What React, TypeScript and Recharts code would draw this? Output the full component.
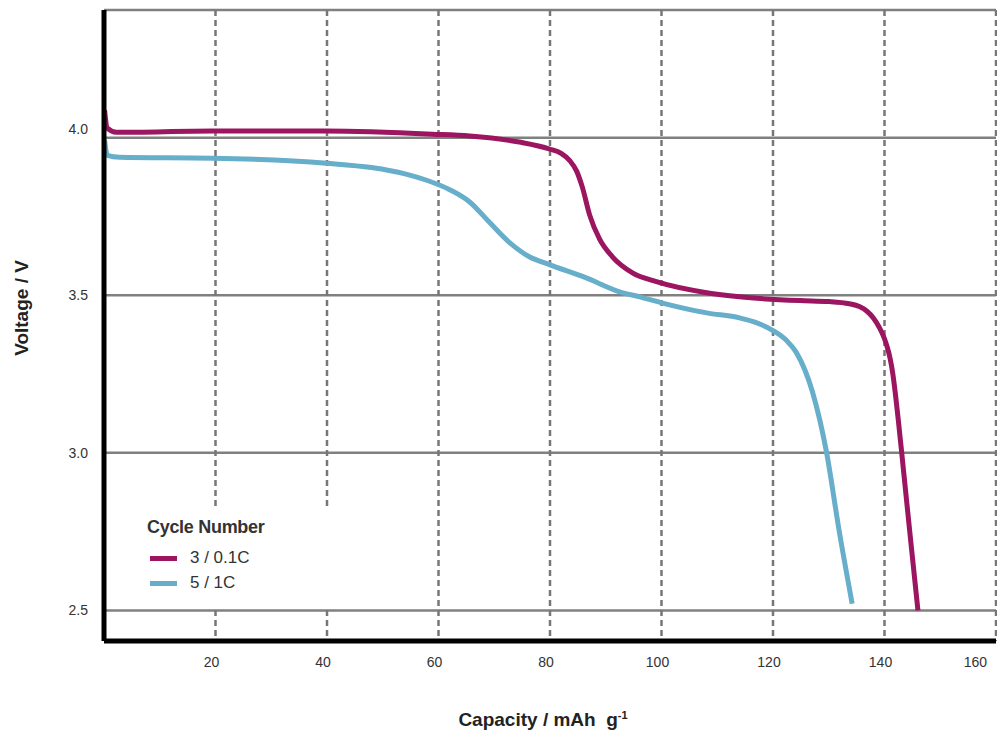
import React from 'react';
import { LineChart, Line, XAxis, YAxis, CartesianGrid } from 'recharts';

// capacity (mAh/g) and voltage (V)
const capCycle3 = [0.1, 0.6, 2.2, 19.5, 39.9, 58.9, 65.6, 74.5, 79.9, 82.0, 83.5, 84.8, 85.8, 87.1, 88.9, 91.2, 94.8, 99.1, 108.1, 114.0, 124.8, 130.0, 133.7, 135.5, 136.8, 138.0, 139.0, 140.0, 140.5, 141.0, 141.5, 142.0, 142.5, 143.0, 144.5, 146.0];
const voltCycle3 = [4.087, 4.030, 4.017, 4.021, 4.021, 4.011, 4.005, 3.986, 3.964, 3.950, 3.928, 3.893, 3.843, 3.755, 3.678, 3.622, 3.571, 3.543, 3.508, 3.495, 3.483, 3.480, 3.473, 3.464, 3.450, 3.428, 3.400, 3.362, 3.335, 3.300, 3.250, 3.180, 3.100, 3.015, 2.755, 2.500];

const capCycle5 = [0.1, 0.6, 2.8, 19.5, 39.9, 48.0, 54.0, 58.0, 62.0, 65.6, 69.1, 72.7, 76.3, 79.9, 86.5, 92.5, 96.1, 100.0, 108.1, 114.0, 117.0, 120.0, 122.4, 124.2, 127.1, 129.6, 131.9, 134.2];
const voltCycle5 = [3.992, 3.944, 3.938, 3.935, 3.919, 3.905, 3.885, 3.864, 3.835, 3.796, 3.732, 3.668, 3.622, 3.597, 3.555, 3.511, 3.495, 3.476, 3.444, 3.428, 3.413, 3.388, 3.357, 3.318, 3.192, 3.002, 2.749, 2.521];

const seriesNames = ['3 / 0.1C', '5 / 1C'];
const seriesColors = ['#9c1560', '#67aecb'];

const xTicks = [20, 40, 60, 80, 100, 120, 140, 160];
const yTicks = [2.5, 3.0, 3.5, 4.0];

const cycle3 = capCycle3.map((c, i) => ({ cap: c, v: voltCycle3[i] }));
const cycle5 = capCycle5.map((c, i) => ({ cap: c, v: voltCycle5[i] }));

const font = '"Liberation Sans", Arial, Helvetica, sans-serif';

const XTick = (props: any) => {
    const { x, y, payload } = props;
    const last = payload.value === 160;
    return (
        <text x={last ? x + 2 : x - 4} y={y} dy="0.71em" textAnchor={last ? 'end' : 'middle'}
            fontSize={14} fill="#333" fontFamily={font}>
            {payload.value}
        </text>
    );
};

const YTick = (props: any) => {
    const { x, y, payload } = props;
    return (
        <text x={x} y={payload.value === 4 ? y - 9 : y} dy="0.355em" textAnchor="end"
            fontSize={14} fill="#333" fontFamily={font}>
            {payload.value.toFixed(1)}
        </text>
    );
};

const LegendBox = () => (
    <div style={{ position: 'absolute', left: 130, top: 507, width: 215, height: 101, background: '#fff', fontFamily: font, color: '#333' }}>
        <div style={{ position: 'absolute', left: 17, top: 10, fontSize: 18, fontWeight: 700, whiteSpace: 'nowrap', letterSpacing: -0.3 }}>
            Cycle Number
        </div>
        {seriesNames.map((name, i) => (
            <div key={name}>
                <div style={{ position: 'absolute', left: 20, top: 49 + i * 25, width: 27, height: 5, background: seriesColors[i] }} />
                <div style={{ position: 'absolute', left: 60, top: 41 + i * 25, fontSize: 17, whiteSpace: 'pre' }}>{name}</div>
            </div>
        ))}
    </div>
);

export default function App() {
    return (
        <div style={{ position: 'absolute', left: 0, top: 0, width: 997, height: 736, background: '#fff' }}>
            <LineChart width={997} height={736} margin={{ top: 10, right: 1, left: 0, bottom: 0 }}>
                <CartesianGrid horizontal={true} vertical={false} stroke="#808080" strokeWidth={2.5} />
                <CartesianGrid horizontal={false} vertical={true} stroke="#777" strokeWidth={2.5} strokeDasharray="6 4" />
                <XAxis type="number" dataKey="cap" domain={[0, 160]} ticks={xTicks} height={95}
                    axisLine={{ stroke: '#000', strokeWidth: 5 }} tickLine={false} tick={<XTick />}
                    tickSize={8} tickMargin={8} allowDataOverflow />
                <YAxis type="number" dataKey="v" domain={[2.403, 4.405]} ticks={yTicks} width={104}
                    axisLine={{ stroke: '#000', strokeWidth: 5 }} tickLine={false} tick={<YTick />}
                    tickSize={8} tickMargin={8} allowDataOverflow />
                <Line data={cycle3} dataKey="v" name={seriesNames[0]} type="monotone" stroke={seriesColors[0]}
                    strokeWidth={5} dot={false} isAnimationActive={false} />
                <Line data={cycle5} dataKey="v" name={seriesNames[1]} type="monotone" stroke={seriesColors[1]}
                    strokeWidth={5} dot={false} isAnimationActive={false} />
            </LineChart>
            <LegendBox />
            <div style={{ position: 'absolute', left: 22, top: 308, transform: 'translate(-50%, -50%) rotate(-90deg)', fontFamily: font, fontWeight: 700, fontSize: 19, color: '#222', whiteSpace: 'nowrap' }}>
                Voltage / V
            </div>
            <div style={{ position: 'absolute', left: 543, top: 720, transform: 'translate(-50%, -50%)', fontFamily: font, fontWeight: 700, fontSize: 19, color: '#222', whiteSpace: 'nowrap' }}>
                Capacity / mAh&nbsp; g<sup style={{ fontSize: 11 }}>-1</sup>
            </div>
        </div>
    );
}
